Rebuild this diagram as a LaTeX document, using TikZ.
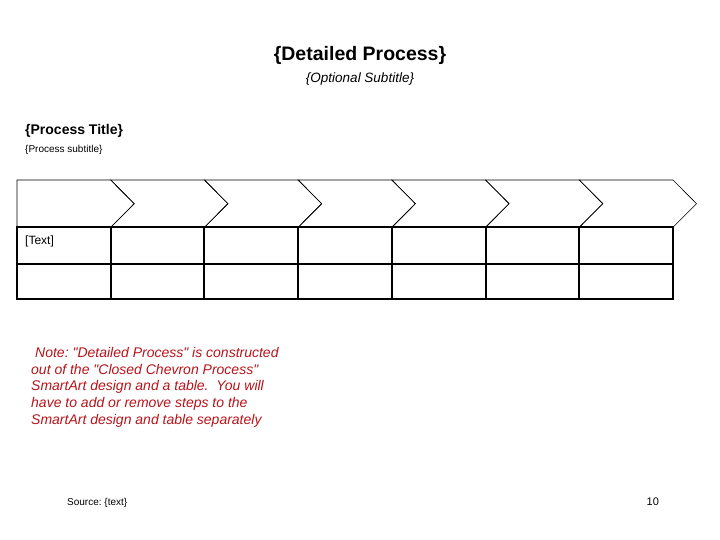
\documentclass[tikz,border=0pt]{standalone}
\usepackage{fontspec}
\setmainfont{Liberation Sans}
\usepackage{xcolor}
\usetikzlibrary{positioning}
\definecolor{notered}{RGB}{182,20,26}
\frenchspacing

\begin{document}
\begin{tikzpicture}[x=1pt, y=-1pt,
    chevron/.style={draw=black, line width=0.6pt, line join=miter},
    tablerule/.style={draw=black, line width=2pt},
    txt/.style={inner sep=0pt, anchor=base west},
    notetxt/.style={txt, text=notered, font=\fontsize{14}{17}\selectfont\itshape}]
  \useasboundingbox (0,0) rectangle (720,540);
  % headings
  \node[inner sep=0pt, anchor=base] (title) at (360,60.7) {\fontsize{19.5}{23}\selectfont\bfseries \{Detailed Process\}};
  \node[inner sep=0pt, anchor=base] (subtitle) at (360,82.7) {\fontsize{13.5}{16}\selectfont\itshape \{Optional Subtitle\}};
  \node[txt] (ptitle) at (25,135) {\fontsize{14}{17}\selectfont\bfseries \{Process Title\}};
  \node[txt] (psub) at (25,152.7) {\fontsize{10}{12}\selectfont \{Process subtitle\}};
  % closed chevrons
  \def\colw{93.714}
  \draw[chevron] (17,180) -- (17+\colw,180) -- (17+\colw+23.5,203.7) -- (17+\colw,227.3) -- (17,227.3) -- cycle;
  \foreach \i in {1,...,6}{
    \draw[chevron] (17+\i*\colw,180) -- (17+\i*\colw+\colw,180) -- (17+\i*\colw+\colw+23.5,203.7)
      -- (17+\i*\colw+\colw,227.3) -- (17+\i*\colw,227.3) -- (17+\i*\colw+23.5,203.7) -- cycle;
  }
  % table
  \draw[tablerule] (17,227.3) rectangle (673,299);
  \draw[tablerule] (17,263.5) -- (673,263.5);
  \foreach \i in {1,...,6}{
    \draw[tablerule] (17+\i*\colw,227.3) -- (17+\i*\colw,299);
  }
  \node[txt] (celltext) at (25,244) {\fontsize{12}{14}\selectfont [Text]};
  % note
  \node[notetxt] (note1) at (35,357.5) {Note: \textquotedbl Detailed Process\textquotedbl\ is constructed};
  \node[notetxt] (note2) at (31,374.2) {out of the \textquotedbl Closed Chevron Process\textquotedbl};
  \node[notetxt] (note3) at (31,390.9) {SmartArt design and a table.\ \ You will};
  \node[notetxt] (note4) at (31,407.6) {have to add or remove steps to the};
  \node[notetxt] (note5) at (31,424.3) {SmartArt design and table separately};
  % footer
  \node[txt] (source) at (67,505.5) {\fontsize{10}{12}\selectfont Source: \{text\}};
  \node[txt] (pagenum) at (646.5,505.7) {\fontsize{11}{13}\selectfont 10};
\end{tikzpicture}
\end{document}
